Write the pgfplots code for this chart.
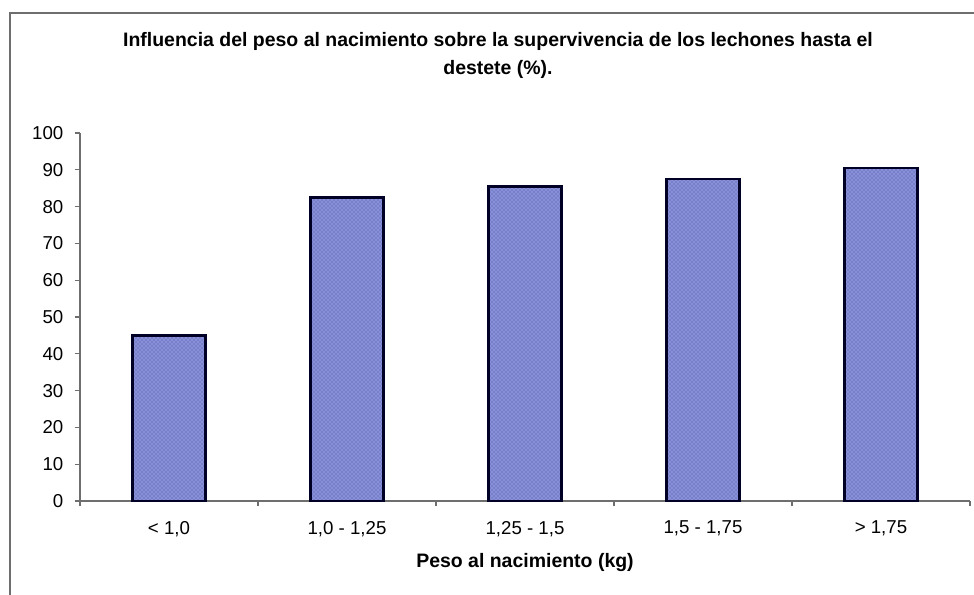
\documentclass[border=0pt]{standalone}
\usepackage{pgfplots}
\pgfplotsset{compat=1.18}
\usepackage{fontspec}
\setmainfont{Liberation Sans}
\usetikzlibrary{patterns}
\definecolor{barfill}{HTML}{8890DA}
\definecolor{bardot}{HTML}{444C94}
\definecolor{axisgray}{HTML}{6E6E6E}
\begin{document}
\begin{tikzpicture}[x=0.75pt,y=0.75pt]
\begin{axis}[
  width=667.5pt, height=276pt, scale only axis,
  xmin=0.5, xmax=5.5, ymin=0, ymax=100,
  clip=false,
  axis x line*=bottom, axis y line*=left,
  axis line style={axisgray, line width=0.8pt, -},
  ytick={0,10,...,100},
  xtick={0.5,1.5,...,5.5}, xticklabels={},
  extra x ticks={1,2,3,4,5},
  extra x tick labels={{< 1,0},{1,0 - 1,25},{1,25 - 1,5},{1,5 - 1,75},{> 1,75}},
  extra x tick style={major tick length=0pt},
  tick align=outside, major tick length=4pt,
  tick style={axisgray, line width=0.8pt},
  /pgf/number format/assume math mode=true,
  tick label style={font=\fontsize{14}{16}\selectfont, black},
  xticklabel style={yshift=-11.5pt},
  yticklabel style={xshift=-5pt},
  xlabel={\bfseries Peso al nacimiento (kg)},
  xlabel style={font=\fontsize{14.6}{17}\selectfont, yshift=-2pt},
  ybar, bar width=0.41,
]
% base colour, then dotted pattern with the dark outline on top
\addplot[draw=none, fill=barfill, bar shift=0pt]
  coordinates {(1,45) (2,82.5) (3,85.5) (4,87.5) (5,90.5)};
\addplot[draw=black!85!blue, line width=2pt, bar shift=0pt,
  pattern=crosshatch dots, pattern color=bardot]
  coordinates {(1,45) (2,82.5) (3,85.5) (4,87.5) (5,90.5)};
\coordinate (O) at (rel axis cs:0,0);
\end{axis}
\pgfresetboundingbox
% everything below in reference pixels, measured from the axis corner at (80,501)
\begin{scope}[shift={(O)}]
\useasboundingbox (-80,-93) rectangle (894,501);
\draw[axisgray, line width=0.8pt] (-70,-120) -- (-70,488) -- (920,488);
\node[font=\fontsize{14.6}{17}\selectfont\bfseries] at (418,460)
  {Influencia del peso al nacimiento sobre la supervivencia de los lechones hasta el};
\node[font=\fontsize{14.6}{17}\selectfont\bfseries] at (418,432) {destete (\%).};
\end{scope}
\end{tikzpicture}
\end{document}
